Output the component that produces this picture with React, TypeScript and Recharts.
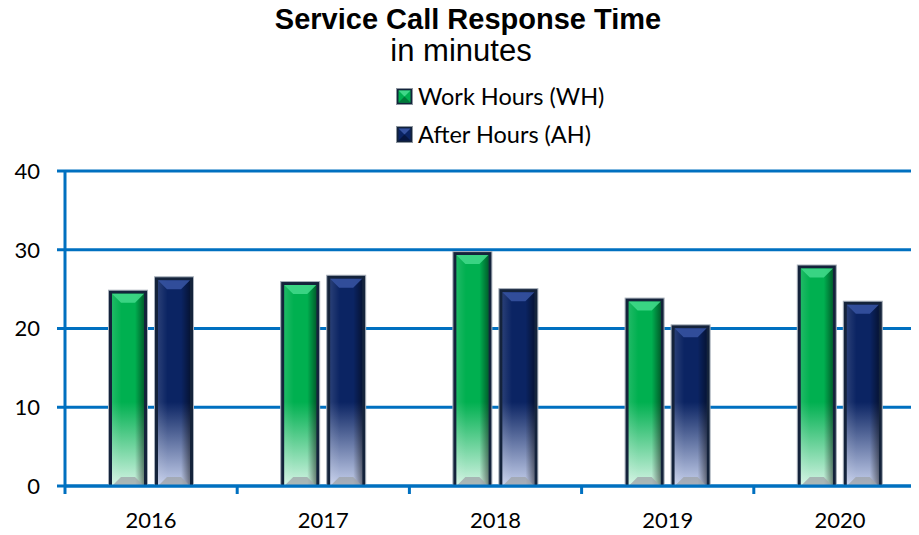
import { Bar, BarChart, CartesianGrid, XAxis, YAxis } from "recharts";

const years = ["2016", "2017", "2018", "2019", "2020"];
const workHours = [24.8, 25.9, 29.7, 23.8, 28.0];
const afterHours = [26.5, 26.7, 25.0, 20.4, 23.4];
const yTicks = [0, 10, 20, 30, 40];
const seriesNames = ["Work Hours (WH)", "After Hours (AH)"];

const rows = years.map((year, i) => ({ year, wh: workHours[i], ah: afterHours[i] }));

const W = 919;
const H = 535;
const margin = { top: 171, right: -7, left: 0, bottom: 0 };
const axisW = 65;
const axisH = 49;
const half = (W - axisW - margin.right) / years.length / 2;
const blue = "#0070C0";
const tickFont = "Lato, 'Open Sans', sans-serif";
const titleFont = "'Liberation Sans', Arial, sans-serif";

const palette: Record<string, { main: string; edge: string; bevel: string; low: string }> = {
  wh: { main: "#00B050", edge: "#007a3a", bevel: "#3fd888", low: "#d4f4e4" },
  ah: { main: "#0b2463", edge: "#061640", bevel: "#3552a0", low: "#c6d0ec" },
};

function BevelBar(props: any) {
  const { x, y, width, height, index, dataKey } = props;
  if (!height || height <= 0) return null;
  const c = palette[dataKey];
  const id = `${dataKey}-${index}`;
  const b = 3; // dark frame
  const ix = x + b, iy = y + b, iw = width - 2 * b, ih = height - b;
  const bottom = y + height;
  const bev = 9;
  return (
    <g>
      <defs>
        <linearGradient id={`v-${id}`} gradientUnits="userSpaceOnUse" x1="0" y1={bottom - 84} x2="0" y2={bottom}>
          <stop offset="0" stopColor={c.main} />
          <stop offset="1" stopColor={c.low} />
        </linearGradient>
        <linearGradient id={`h-${id}`} x1="0" y1="0" x2="1" y2="0">
          <stop offset="0" stopColor="#ffffff" stopOpacity="0.12" />
          <stop offset="0.3" stopColor="#ffffff" stopOpacity="0" />
          <stop offset="0.72" stopColor="#000000" stopOpacity="0" />
          <stop offset="1" stopColor="#000000" stopOpacity="0.45" />
        </linearGradient>
      </defs>
      <rect x={x - 0.5} y={y - 0.5} width={width + 1} height={height + 0.5} fill="#14233b" stroke="#a9b1bb" strokeWidth={1} />
      <rect x={ix} y={iy} width={iw} height={ih} fill={`url(#v-${id})`} />
      <rect x={ix} y={iy} width={iw} height={ih} fill={`url(#h-${id})`} />
      <polygon points={`${ix},${iy} ${ix + iw},${iy} ${ix + iw - bev},${iy + bev} ${ix + bev},${iy + bev}`} fill={c.bevel} opacity={0.9} />
      <polygon points={`${ix},${bottom} ${ix + iw},${bottom} ${ix + iw - bev},${bottom - bev} ${ix + bev},${bottom - bev}`} fill="#9ea3a8" opacity={0.75} />
    </g>
  );
}

function YearTick(props: any) {
  const { x, y, payload } = props;
  return (
    <g>
      <line x1={x - half} x2={x - half} y1={y} y2={y + 8} stroke={blue} strokeWidth={3} />
      <text x={x} y={y + 42} textAnchor="middle" fontFamily={tickFont} fontSize={22} fill="#000">{payload.value}</text>
    </g>
  );
}

function LegendIcon({ k }: { k: string }) {
  const c = palette[k];
  return (
    <svg width={17} height={17} style={{ marginRight: 5, flex: "none" }}>
      <rect x={0.5} y={0.5} width={16} height={16} fill="#14233b" stroke="#8d96a0" />
      <rect x={2.5} y={2.5} width={12} height={12} fill={c.main} />
      <polygon points="2.5,2.5 14.5,2.5 8.5,8.5" fill={c.bevel} />
      <polygon points="2.5,14.5 14.5,14.5 8.5,8.5" fill={c.edge} />
    </svg>
  );
}

function LegendBox() {
  const keys = ["wh", "ah"];
  return (
    <div style={{ position: "absolute", top: 77, left: 396, fontFamily: tickFont, fontSize: 23.5, color: "#000" }}>
      {keys.map((k, i) => (
        <div key={k} style={{ display: "flex", alignItems: "center", height: 38, whiteSpace: "nowrap" }}>
          <LegendIcon k={k} />
          <span>{seriesNames[i]}</span>
        </div>
      ))}
    </div>
  );
}

export default function App() {
  return (
    <div style={{ position: "relative", width: W, height: H, margin: "-8px 0 0 -8px", background: "#fff", overflow: "hidden" }}>
      <div style={{ position: "absolute", top: 1, left: 0, width: 936, textAlign: "center", fontFamily: titleFont, fontWeight: 700, fontSize: 29, lineHeight: "36px" }}>
        Service Call Response Time
      </div>
      <div style={{ position: "absolute", top: 33, left: 0, width: 922, textAlign: "center", fontFamily: titleFont, fontSize: 31, lineHeight: "36px" }}>
        in minutes
      </div>
      <LegendBox />
      <BarChart width={W} height={H} data={rows} margin={margin} barSize={38} barGap={8}>
        <CartesianGrid vertical={false} stroke={blue} strokeWidth={3} />
        <XAxis dataKey="year" height={axisH} axisLine={{ stroke: blue, strokeWidth: 3 }} tickLine={false} tickSize={0} tickMargin={0} tick={<YearTick />} interval={0} />
        <YAxis domain={[0, 40]} ticks={yTicks} width={axisW} axisLine={{ stroke: blue, strokeWidth: 3 }} tickLine={{ stroke: blue, strokeWidth: 3 }} tickSize={8} tickMargin={17} tick={{ fontFamily: tickFont, fontSize: 22, fill: "#000" }} />
        <Bar dataKey="wh" name={seriesNames[0]} shape={<BevelBar />} isAnimationActive={false} />
        <Bar dataKey="ah" name={seriesNames[1]} shape={<BevelBar />} isAnimationActive={false} />
      </BarChart>
    </div>
  );
}
